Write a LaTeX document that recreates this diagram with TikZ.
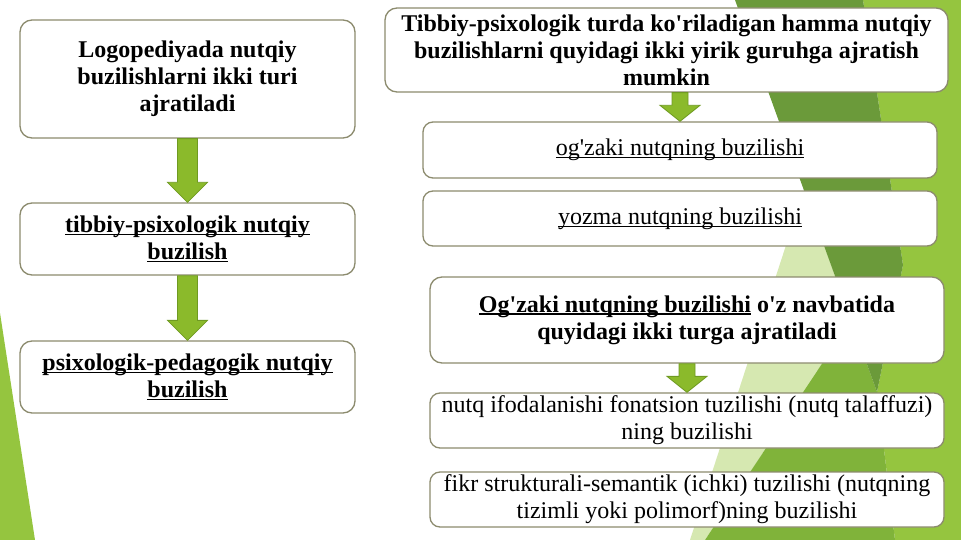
\documentclass[tikz,border=0pt]{standalone}
\usepackage{fontspec}
\setmainfont{Liberation Serif}
\usetikzlibrary{calc}
\definecolor{boxline}{HTML}{8C8B6E}
\definecolor{arrowfill}{HTML}{8BBA2B}
\definecolor{arrowline}{HTML}{6F9A22}
\definecolor{greendark}{HTML}{6B9A3A}
\definecolor{greenmid}{HTML}{80B33A}
\definecolor{greenbright}{HTML}{95C53F}
\definecolor{greenpale}{HTML}{D6E8B1}
\newcommand{\ap}{\textquotesingle}
\newsavebox{\undlbox}
\newcommand{\undl}[1]{\sbox{\undlbox}{#1}\rlap{\rule[-2.5pt]{\wd\undlbox}{1.2pt}}\usebox{\undlbox}}
\tikzset{
  box/.style={draw=boxline, fill=white, line width=1.3pt, rounded corners=12pt,
    align=center, inner sep=0pt, font=\fontsize{24}{27}\selectfont},
  greenarrow/.style={fill=arrowfill, draw=arrowline, line width=0.8pt}
}
% fat green arrow from the bottom of #1 to the top of #2
\newcommand{\fatarrow}[4]{%
  \filldraw[greenarrow] let \p1=(#1.south), \p2=(#2.north) in
    (\x2-#3,\y1) -- (\x2-#3,\y2+#4) -- (\x2-20pt,\y2+#4) -- (\x2,\y2)
    -- (\x2+20pt,\y2+#4) -- (\x2+#3,\y2+#4) -- (\x2+#3,\y1) -- cycle;}
\begin{document}
\begin{tikzpicture}[x=1pt,y=-1pt]
\useasboundingbox (0,0) rectangle (961,540);
\fill[white] (0,0) rectangle (961,540);
% background facets
\fill[greenbright] (0,313) -- (0,540) -- (35,540) -- cycle;
\fill[greenbright] (863,0) -- (961,0) -- (961,540) -- (895,540) -- (877,392) -- (903,265) -- cycle;
\fill[greenpale] (804,190) -- (851,320) -- (705,540) -- (690,540) -- cycle;
\fill[greenmid] (851,320) -- (877,392) -- (895,540) -- (705,540) -- cycle;
\fill[greendark] (735,0) -- (863,0) -- (903,265) -- (877,392) -- cycle;
% left column
\node[box, minimum width=335pt, minimum height=118pt] (logo) at (187.5,79)
  {\bfseries Logopediyada nutqiy\\ \bfseries buzilishlarni ikki turi\\ \bfseries ajratiladi};
\node[box, minimum width=335pt, minimum height=72pt] (tibbiy) at (187.5,239)
  {\bfseries\undl{tibbiy-psixologik nutqiy}\\ \bfseries\undl{buzilish}};
\node[box, minimum width=335pt, minimum height=72pt] (pedagog) at (187.5,377)
  {\bfseries\undl{psixologik-pedagogik nutqiy}\\ \bfseries\undl{buzilish}};
% right column
\node[box, minimum width=563pt, minimum height=84pt] (guruh) at (666.5,50)
  {\bfseries Tibbiy-psixologik turda ko\ap riladigan hamma nutqiy\\
   \bfseries buzilishlarni quyidagi ikki yirik guruhga ajratish\\ \bfseries mumkin};
\node[box, rounded corners=10pt, minimum width=514pt, minimum height=56pt] (ogzaki) at (680,150)
  {\undl{og\ap zaki nutqning buzilishi}};
\node[box, rounded corners=10pt, minimum width=514pt, minimum height=55pt] (yozma) at (680,218.5)
  {\undl{yozma nutqning buzilishi}};
\node[box, minimum width=514pt, minimum height=86pt] (navbat) at (687,320)
  {\bfseries\undl{Og\ap zaki nutqning buzilishi} o\ap z navbatida\\ \bfseries quyidagi ikki turga ajratiladi};
\node[box, rounded corners=10pt, minimum width=514pt, minimum height=55pt] (fonat) at (687,420.5)
  {nutq ifodalanishi fonatsion tuzilishi (nutq talaffuzi)\\ ning buzilishi};
\node[box, rounded corners=10pt, minimum width=514pt, minimum height=55pt] (fikr) at (687,499.5)
  {fikr strukturali-semantik (ichki) tuzilishi (nutqning\\ tizimli yoki polimorf)ning buzilishi};
% arrows
\fatarrow{logo}{tibbiy}{10pt}{20pt}
\fatarrow{tibbiy}{pedagog}{10pt}{20pt}
\fatarrow{guruh}{ogzaki}{8pt}{16pt}
\fatarrow{navbat}{fonat}{8pt}{16pt}
\end{tikzpicture}
\end{document}
